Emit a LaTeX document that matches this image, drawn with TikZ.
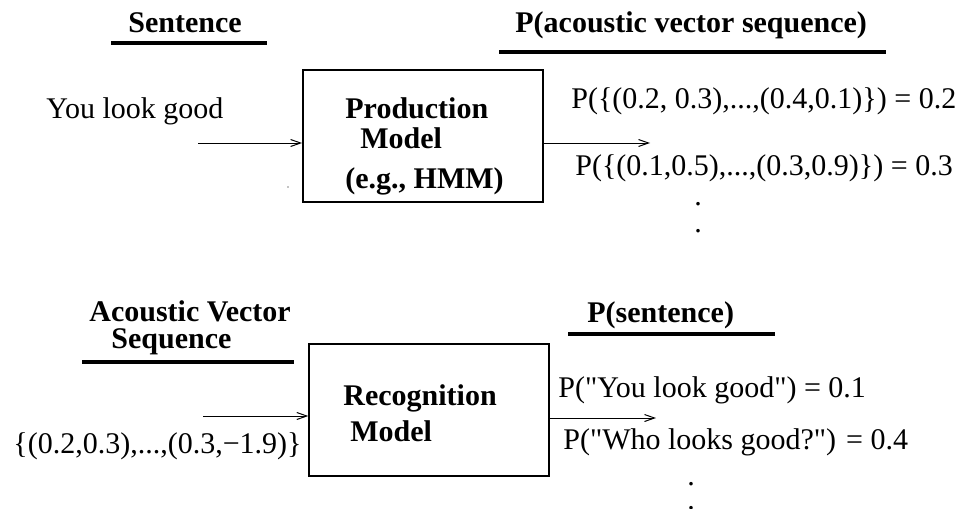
\documentclass[tikz,border=0pt]{standalone}
\usepackage{fontspec}
\setmainfont{Liberation Serif}
\usetikzlibrary{arrows.meta}
\begin{document}
\begin{tikzpicture}[x=0.5pt,y=-0.5pt,>={Straight Barb[length=5pt,width=3.5pt]},
  font=\fontsize{15}{18}\selectfont,
  txt/.style={inner sep=0pt,anchor=west},
  hdr/.style={inner sep=0pt,anchor=west,font=\fontsize{15}{18}\selectfont\bfseries},
  model/.style={draw,line width=0.7pt,minimum width=120pt,minimum height=66pt,inner sep=0pt},
  uline/.style={line width=1.8pt},
  flow/.style={->,line width=0.5pt}]
\useasboundingbox (0,0) rectangle (961,508);
% production (top)
\node[hdr] (sent) at (128,23) {Sentence};
\draw[uline] (111,43)--(267,43);
\node[hdr] (pavs) at (515,25) {P(acoustic vector sequence)};
\draw[uline] (499,52)--(886,52);
\node[txt] (ylg) at (46,111) {You look good};
\node[model] (prod) at (422.8,136) {};
\node[hdr] (prodt) at (345,108) {Production};
\node[hdr] (prodm) at (360,138) {Model};
\node[hdr] (prodeg) at (345,181) {(e.g., HMM)};
\fill (288,187) circle (0.6);
\coordinate (in1) at (198,143);
\coordinate (out1) at (650,143);
\draw[flow] (in1)--(in1 -| prod.west);
\draw[flow] (out1 -| prod.east)--(out1);
\node[txt] (pa) at (571,101) {P(\{(0.2, 0.3),...,(0.4,0.1)\}) = 0.2};
\node[txt] (pb) at (575,168) {P(\{(0.1,0.5),...,(0.3,0.9)\}) = 0.3};
\node[inner sep=0pt] (d1) at (698,204) {.};
\node[inner sep=0pt] (d2) at (698,231) {.};
% recognition (bottom)
\node[hdr] (avs) at (89,311) {Acoustic Vector};
\node[hdr] (avsb) at (111,342) {Sequence};
\draw[uline] (82,362)--(294,362);
\node[hdr] (psent) at (587,315) {P(sentence)};
\draw[uline] (568,334)--(775,334);
\node[txt] (vec) at (13,446) {\{(0.2,0.3),...,(0.3,−1.9)\}};
\node[model] (recog) at (429,410) {};
\node[hdr] (recogt) at (343,398) {Recognition};
\node[hdr] (recogm) at (350,431) {Model};
\coordinate (in2) at (203,416);
\coordinate (out2) at (656,418);
\draw[flow] (in2)--(in2 -| recog.west);
\draw[flow] (out2 -| recog.east)--(out2);
\node[txt] (sa) at (558,390) {P(\textquotedbl You look good\textquotedbl) = 0.1};
\node[txt] (sb) at (563,442) {P(\textquotedbl Who looks good?\textquotedbl) = 0.4};
\node[inner sep=0pt] (d3) at (691,484) {.};
\node[inner sep=0pt] (d4) at (691,508.5) {.};
\end{tikzpicture}
\end{document}
